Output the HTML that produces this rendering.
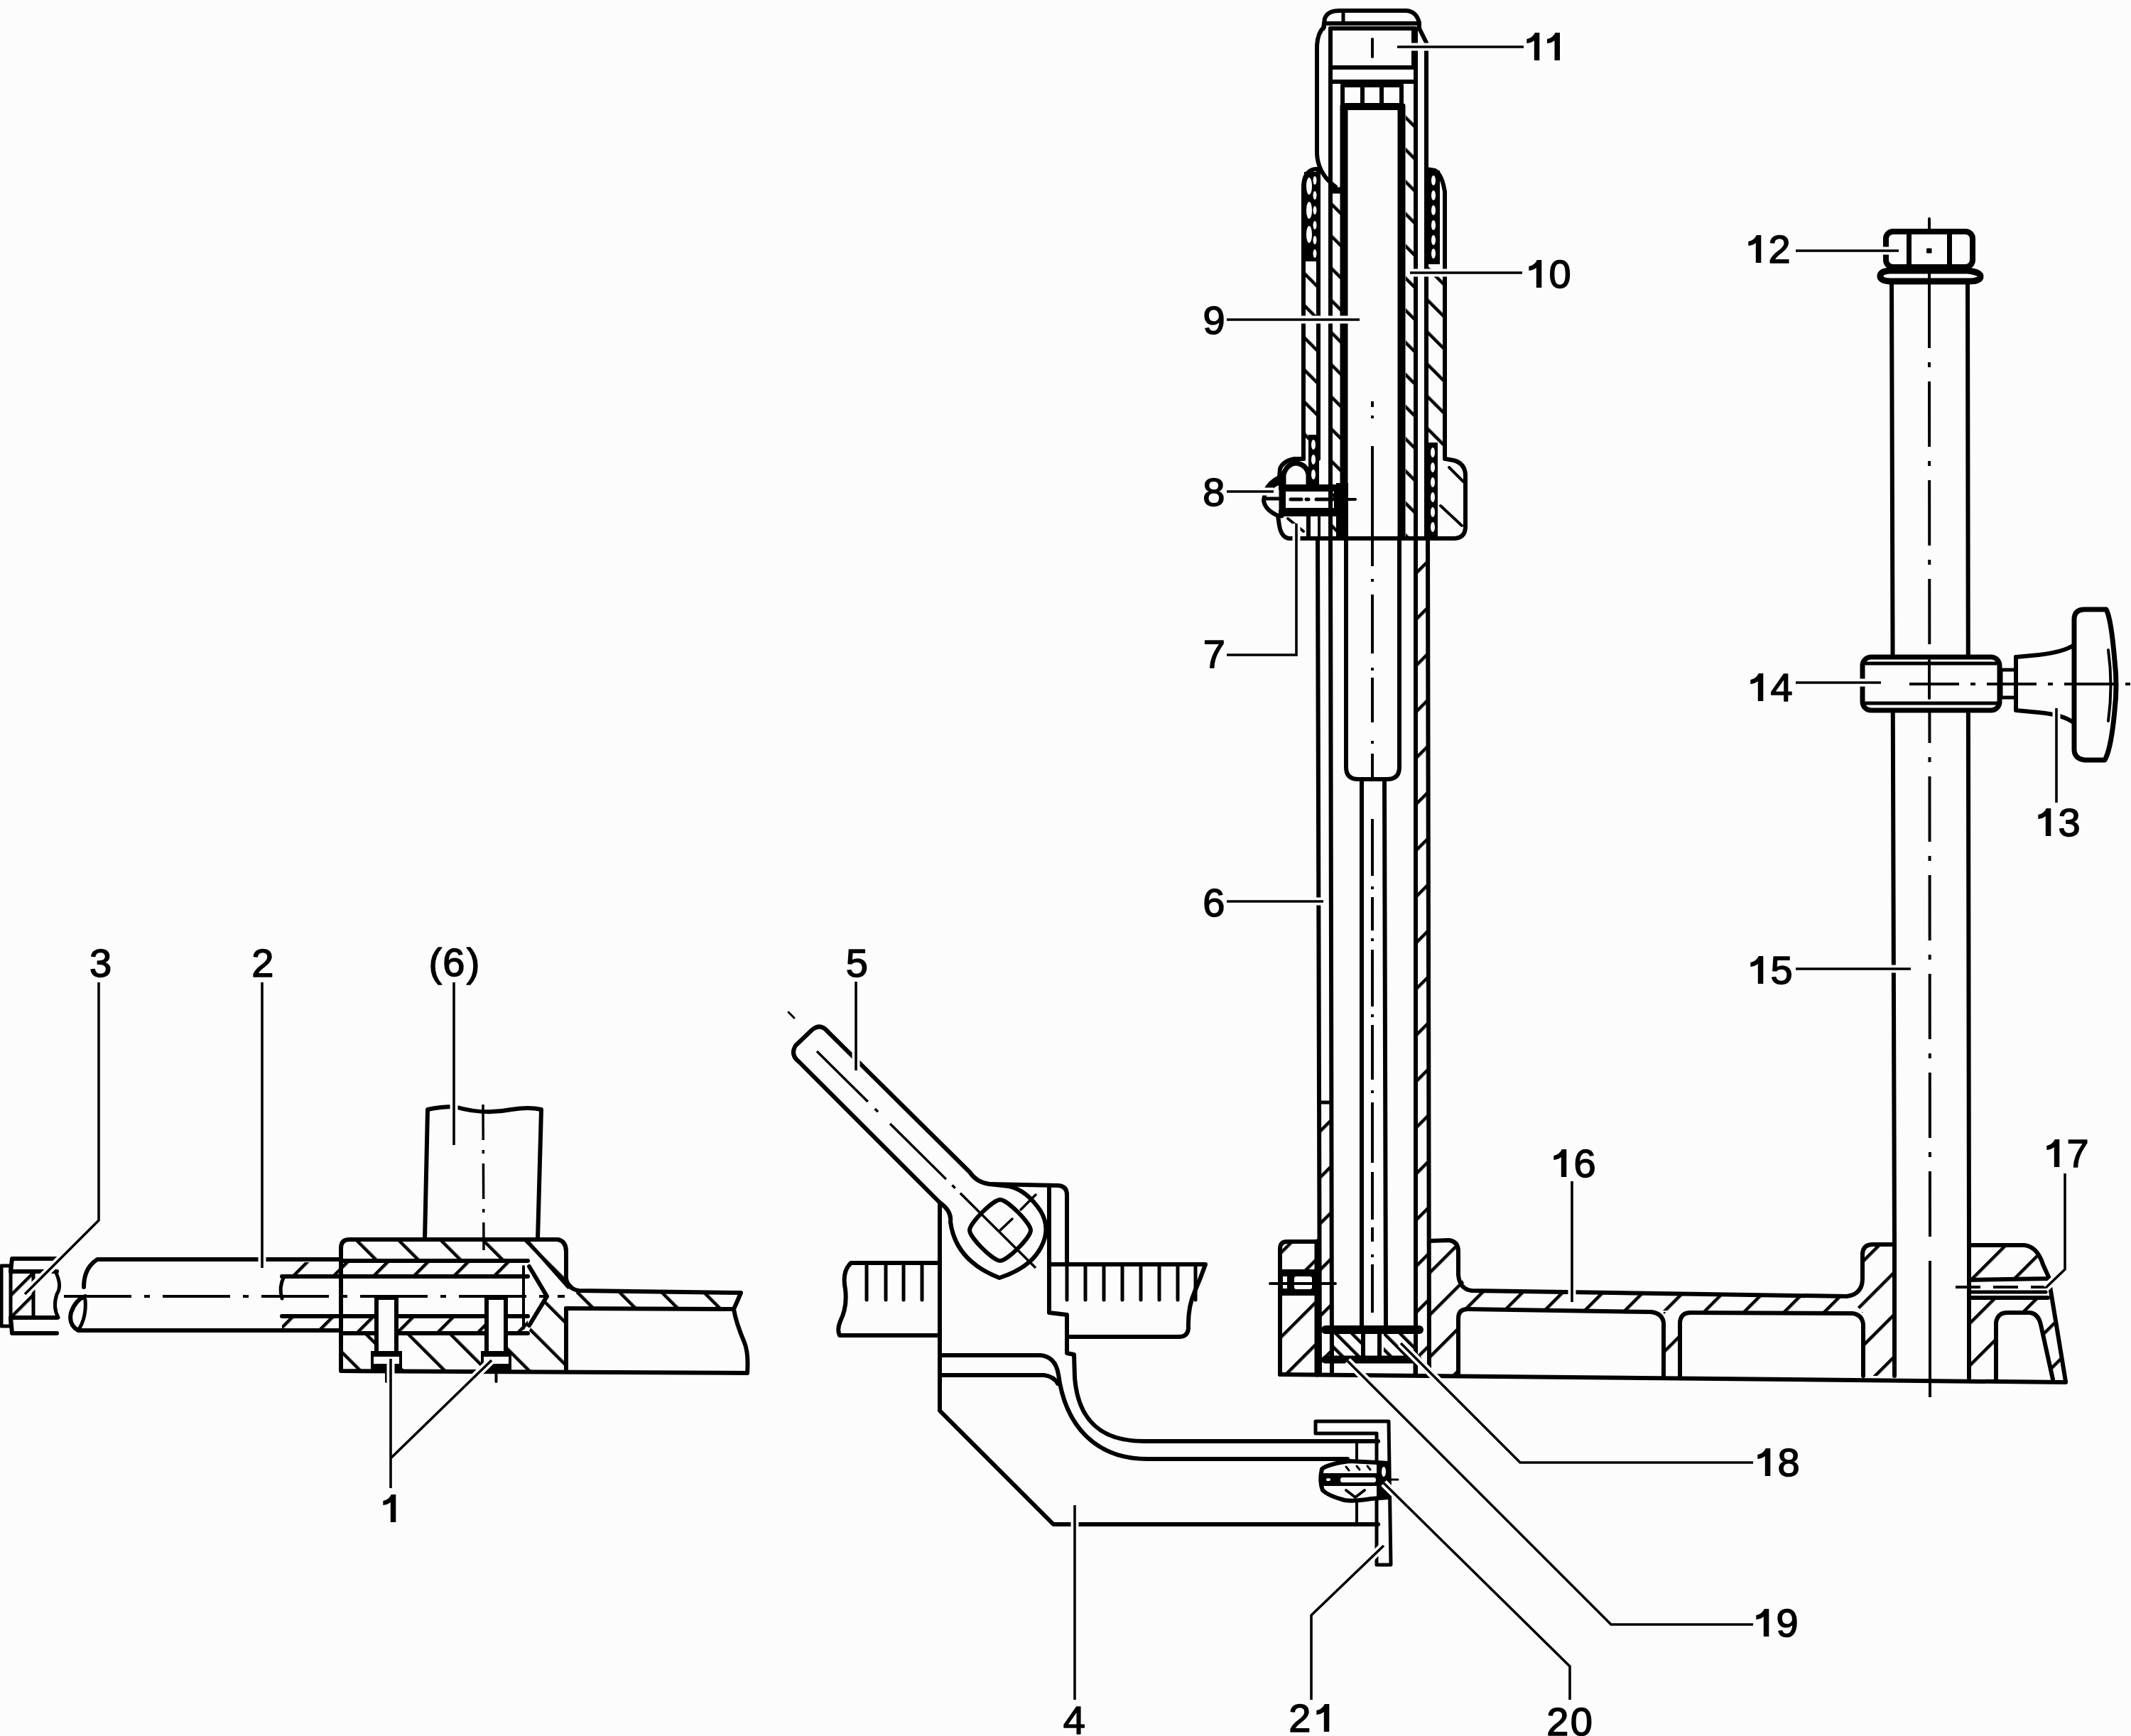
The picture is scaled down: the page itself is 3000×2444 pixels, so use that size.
<!DOCTYPE html>
<html><head><meta charset="utf-8"><style>
html,body{margin:0;padding:0;background:#fcfcfc;overflow:hidden;}
svg{display:block;}
text{font-family:"Liberation Sans",sans-serif;font-size:56px;fill:#000;stroke:#000;stroke-width:1.5px;}
</style></head><body>
<svg width="3000" height="2444" viewBox="0 0 3000 2444">
<defs>
<pattern id="pm45_32_4d5" patternUnits="userSpaceOnUse" width="32" height="32" patternTransform="rotate(-45)"><rect x="0" y="0" width="4.5" height="32" fill="#000"/></pattern>
<pattern id="p45_46_4d5" patternUnits="userSpaceOnUse" width="46" height="46" patternTransform="rotate(45)"><rect x="0" y="0" width="4.5" height="46" fill="#000"/></pattern>
<pattern id="p45_42_4d5" patternUnits="userSpaceOnUse" width="42" height="42" patternTransform="rotate(45)"><rect x="0" y="0" width="4.5" height="42" fill="#000"/></pattern>
<pattern id="pm45_16_4d5" patternUnits="userSpaceOnUse" width="16" height="16" patternTransform="rotate(-45)"><rect x="0" y="0" width="4.5" height="16" fill="#000"/></pattern>
<pattern id="p45_40_4d5" patternUnits="userSpaceOnUse" width="40" height="40" patternTransform="rotate(45)"><rect x="0" y="0" width="4.5" height="40" fill="#000"/></pattern>
<pattern id="pm45_42_4d5" patternUnits="userSpaceOnUse" width="42" height="42" patternTransform="rotate(-45)"><rect x="0" y="0" width="4.5" height="42" fill="#000"/></pattern>
<pattern id="p45_22_4d5" patternUnits="userSpaceOnUse" width="22" height="22" patternTransform="rotate(45)"><rect x="0" y="0" width="4.5" height="22" fill="#000"/></pattern>
</defs>
<g stroke="#000" stroke-linecap="round" stroke-linejoin="round" fill="none">
<rect x="1873" y="265" width="14" height="492" fill="url(#pm45_32_4d5)" stroke="none"/>
<rect x="1979" y="155" width="14" height="602" fill="url(#pm45_32_4d5)" stroke="none"/>
<rect x="1835" y="367" width="21" height="279" fill="url(#pm45_32_4d5)" stroke="none"/>
<rect x="2010" y="372" width="23" height="274" fill="url(#pm45_32_4d5)" stroke="none"/>
<rect x="1993" y="758" width="17" height="1177" fill="url(#p45_46_4d5)" stroke="none"/>
<rect x="1858" y="1552" width="14" height="383" fill="url(#p45_46_4d5)" stroke="none"/>
<path d="M1863,40 L1865,26 Q1869,15 1886,15 L1980,15 Q1994,16 1998,32 L1998,40" stroke-width="6" fill="none" />
<line x1="1866" y1="33" x2="1996" y2="33" stroke-width="6" />
<line x1="1891" y1="17" x2="1891" y2="33" stroke-width="5" />
<rect x="1873" y="40" width="117" height="55" rx="0" stroke-width="6" fill="none" />
<line x1="1873" y1="115" x2="1990" y2="115" stroke-width="6" />
<rect x="1890" y="120" width="83" height="28" rx="0" stroke-width="6" fill="none" />
<line x1="1918" y1="120" x2="1918" y2="148" stroke-width="6" />
<line x1="1945" y1="120" x2="1945" y2="148" stroke-width="6" />
<rect x="1887" y="146" width="91" height="9" fill="#000" stroke="none"/>
<line x1="1932" y1="55" x2="1932" y2="80" stroke-width="4" />
<path d="M1864,38 Q1855,46 1854,64 L1854,216 Q1855,244 1880,263" stroke-width="6" fill="none" />
<path d="M1998,40 L2008,60 L2008,758" stroke-width="6" fill="none" />
<line x1="1873" y1="40" x2="1873" y2="758" stroke-width="6" />
<line x1="1993" y1="40" x2="1993" y2="1935" stroke-width="6" />
<line x1="1875" y1="268" x2="1887" y2="268" stroke-width="9" />
<line x1="1892" y1="148" x2="1892" y2="758" stroke-width="11" stroke-linecap="butt"/>
<line x1="1973" y1="148" x2="1973" y2="758" stroke-width="11" stroke-linecap="butt"/>
<path d="M1835,646 L1835,262 Q1836,240 1852,238 L1856,238" stroke-width="6" fill="none" />
<line x1="1856" y1="238" x2="1856" y2="646" stroke-width="6" />
<path d="M2034,646 L2034,270 Q2030,245 2020,240 L2008,238" stroke-width="6" fill="none" />
<rect x="1836" y="242" width="21" height="126" fill="#000" stroke="none"/>
<rect x="2010" y="240" width="17" height="132" fill="#000" stroke="none"/>
<ellipse cx="1843" cy="262" rx="4" ry="12" fill="#fcfcfc" stroke="none"/>
<ellipse cx="1843" cy="296" rx="4" ry="12" fill="#fcfcfc" stroke="none"/>
<ellipse cx="1843" cy="330" rx="4" ry="12" fill="#fcfcfc" stroke="none"/>
<ellipse cx="1851" cy="254" rx="2.5" ry="6" fill="#fcfcfc" stroke="none"/>
<ellipse cx="2018" cy="254" rx="3" ry="7" fill="#fcfcfc" stroke="none"/>
<ellipse cx="1851" cy="275" rx="2.5" ry="6" fill="#fcfcfc" stroke="none"/>
<ellipse cx="2018" cy="275" rx="3" ry="7" fill="#fcfcfc" stroke="none"/>
<ellipse cx="1851" cy="296" rx="2.5" ry="6" fill="#fcfcfc" stroke="none"/>
<ellipse cx="2018" cy="296" rx="3" ry="7" fill="#fcfcfc" stroke="none"/>
<ellipse cx="1851" cy="317" rx="2.5" ry="6" fill="#fcfcfc" stroke="none"/>
<ellipse cx="2018" cy="317" rx="3" ry="7" fill="#fcfcfc" stroke="none"/>
<ellipse cx="1851" cy="338" rx="2.5" ry="6" fill="#fcfcfc" stroke="none"/>
<ellipse cx="2018" cy="338" rx="3" ry="7" fill="#fcfcfc" stroke="none"/>
<ellipse cx="1851" cy="357" rx="2.5" ry="6" fill="#fcfcfc" stroke="none"/>
<ellipse cx="2018" cy="357" rx="3" ry="7" fill="#fcfcfc" stroke="none"/>
<path d="M1835,646 L1822,646 Q1806,649 1802,660 L1801,672 Q1786,679 1781,692 L1779,705 Q1781,718 1799,726 L1801,740 Q1804,757 1815,758 L2048,758 Q2062,757 2063,743 L2063,668 Q2062,652 2046,648 L2035,646" stroke-width="6" fill="none" />
<path d="M1807,684 L1807,668 Q1812,652 1826,652 Q1840,655 1842,668 L1842,684" stroke-width="7" fill="none" />
<rect x="1800" y="682" width="98" height="8" fill="#000" stroke="none"/>
<rect x="1800" y="718" width="98" height="9" fill="#000" stroke="none"/>
<rect x="1807" y="689" width="74" height="29" rx="0" stroke-width="6" fill="none" />
<rect x="1881" y="680" width="17" height="78" fill="#000" stroke="none"/>
<path d="M1803,679 Q1790,681 1785,693" stroke-width="7" fill="none" />
<line x1="1804" y1="676" x2="1804" y2="726" stroke-width="7" />
<line x1="1781" y1="702" x2="1804" y2="702" stroke-width="5" />
<line x1="1817" y1="703" x2="1832" y2="703" stroke-width="5" />
<line x1="1839" y1="703" x2="1842" y2="703" stroke-width="5" />
<line x1="1853" y1="703" x2="1880" y2="703" stroke-width="5" />
<line x1="1898" y1="703" x2="1908" y2="703" stroke-width="4" />
<line x1="1842" y1="727" x2="1842" y2="758" stroke-width="6" />
<line x1="1813" y1="730" x2="1835" y2="748" stroke-width="4" />
<line x1="1857" y1="727" x2="1857" y2="758" stroke-width="4" />
<line x1="2040" y1="658" x2="2060" y2="678" stroke-width="4" />
<line x1="2028" y1="712" x2="2058" y2="740" stroke-width="4" />
<rect x="2010" y="623" width="14" height="134" fill="#000" stroke="none"/>
<ellipse cx="2017" cy="637" rx="3" ry="7" fill="#fcfcfc" stroke="none"/>
<ellipse cx="2017" cy="658" rx="3" ry="7" fill="#fcfcfc" stroke="none"/>
<ellipse cx="2017" cy="679" rx="3" ry="7" fill="#fcfcfc" stroke="none"/>
<ellipse cx="2017" cy="700" rx="3" ry="7" fill="#fcfcfc" stroke="none"/>
<ellipse cx="2017" cy="721" rx="3" ry="7" fill="#fcfcfc" stroke="none"/>
<ellipse cx="2017" cy="742" rx="3" ry="7" fill="#fcfcfc" stroke="none"/>
<rect x="1842" y="612" width="15" height="70" fill="#000" stroke="none"/>
<ellipse cx="1849" cy="626" rx="3" ry="7" fill="#fcfcfc" stroke="none"/>
<ellipse cx="1849" cy="647" rx="3" ry="7" fill="#fcfcfc" stroke="none"/>
<ellipse cx="1849" cy="668" rx="3" ry="7" fill="#fcfcfc" stroke="none"/>
<line x1="1855" y1="758" x2="1858" y2="1935" stroke-width="6" />
<line x1="1873" y1="758" x2="1875" y2="1935" stroke-width="6" />
<line x1="1895" y1="758" x2="1895" y2="1080" stroke-width="6" />
<line x1="1970" y1="758" x2="1970" y2="1080" stroke-width="6" />
<line x1="2010" y1="758" x2="2012" y2="1935" stroke-width="6" />
<path d="M1895,1080 Q1895,1097 1912,1097 L1953,1097 Q1970,1097 1970,1080" stroke-width="6" fill="none" />
<line x1="1917" y1="1097" x2="1917" y2="1870" stroke-width="6" />
<line x1="1949" y1="1097" x2="1951" y2="1870" stroke-width="6" />
<line x1="1858" y1="1552" x2="1872" y2="1552" stroke-width="5" />
<line x1="1932" y1="565" x2="1932" y2="573" stroke-width="4" stroke-linecap="butt"/>
<line x1="1932" y1="585" x2="1932" y2="589" stroke-width="4" stroke-linecap="butt"/>
<line x1="1932" y1="628" x2="1932" y2="797" stroke-width="4" stroke-linecap="butt"/>
<line x1="1932" y1="815" x2="1932" y2="819" stroke-width="4" stroke-linecap="butt"/>
<line x1="1932" y1="837" x2="1932" y2="920" stroke-width="4" stroke-linecap="butt"/>
<line x1="1932" y1="940" x2="1932" y2="944" stroke-width="4" stroke-linecap="butt"/>
<line x1="1932" y1="954" x2="1932" y2="1017" stroke-width="4" stroke-linecap="butt"/>
<line x1="1932" y1="1043" x2="1932" y2="1047" stroke-width="4" stroke-linecap="butt"/>
<line x1="1932" y1="1061" x2="1932" y2="1095" stroke-width="4" stroke-linecap="butt"/>
<line x1="1932" y1="1153" x2="1932" y2="1233" stroke-width="4" stroke-linecap="butt"/>
<line x1="1932" y1="1248" x2="1932" y2="1252" stroke-width="4" stroke-linecap="butt"/>
<line x1="1932" y1="1263" x2="1932" y2="1310" stroke-width="4" stroke-linecap="butt"/>
<line x1="1932" y1="1321" x2="1932" y2="1325" stroke-width="4" stroke-linecap="butt"/>
<line x1="1932" y1="1337" x2="1932" y2="1417" stroke-width="4" stroke-linecap="butt"/>
<line x1="1932" y1="1428" x2="1932" y2="1432" stroke-width="4" stroke-linecap="butt"/>
<line x1="1932" y1="1443" x2="1932" y2="1520" stroke-width="4" stroke-linecap="butt"/>
<line x1="1932" y1="1535" x2="1932" y2="1539" stroke-width="4" stroke-linecap="butt"/>
<line x1="1932" y1="1552" x2="1932" y2="1637" stroke-width="4" stroke-linecap="butt"/>
<line x1="1932" y1="1650" x2="1932" y2="1717" stroke-width="4" stroke-linecap="butt"/>
<line x1="1932" y1="1728" x2="1932" y2="1748" stroke-width="4" stroke-linecap="butt"/>
<line x1="1932" y1="1766" x2="1932" y2="1770" stroke-width="4" stroke-linecap="butt"/>
<line x1="1932" y1="1780" x2="1932" y2="1848" stroke-width="4" stroke-linecap="butt"/>
<path d="M1802,1748 L1853,1748 L1853,1935 L1802,1935 Z" fill="url(#p45_42_4d5)" stroke="none"/>
<path d="M1802,1935 L1802,1758 Q1802,1748 1812,1748 L1853,1748" stroke-width="6" fill="none" />
<line x1="1854" y1="1748" x2="1854" y2="1935" stroke-width="7" />
<rect x="1802" y="1787" width="52" height="37" fill="#000" stroke="none"/>
<rect x="1806" y="1797" width="6" height="17" rx="0" fill="#fcfcfc" stroke="none"/>
<rect x="1822" y="1797" width="25" height="18" rx="3" fill="#fcfcfc" stroke="none"/>
<line x1="1788" y1="1807" x2="1880" y2="1807" stroke-width="4" />
<rect x="1876" y="1878" width="40" height="31" fill="url(#pm45_16_4d5)" stroke="none"/>
<rect x="1948" y="1878" width="42" height="31" fill="url(#pm45_16_4d5)" stroke="none"/>
<line x1="1866" y1="1872" x2="1998" y2="1872" stroke-width="12" />
<line x1="1866" y1="1914" x2="1996" y2="1914" stroke-width="11" />
<line x1="1919" y1="1878" x2="1919" y2="1909" stroke-width="6" />
<line x1="1942" y1="1878" x2="1942" y2="1909" stroke-width="6" />
<line x1="1875" y1="1920" x2="1875" y2="1935" stroke-width="5" />
<line x1="1992" y1="1920" x2="1992" y2="1935" stroke-width="5" />
<path d="M2012,1747 L2053,1747 L2053,1795 L2070,1818 L2053,1842 L2053,1935 L2012,1935 Z" fill="url(#p45_42_4d5)" stroke="none"/>
<path d="M2053,1818 L2600,1825 L2623,1848 L2053,1842 Z" fill="url(#p45_40_4d5)" stroke="none"/>
<path d="M2342,1847 L2365,1847 L2365,1937 L2342,1937 Z" fill="url(#p45_40_4d5)" stroke="none"/>
<path d="M2012,1747 L2040,1746 Q2053,1748 2053,1762 L2053,1795 Q2055,1815 2072,1817 C2200,1818 2300,1821 2400,1822 C2500,1824 2560,1825 2600,1825" stroke-width="6" fill="none" />
<path d="M2053,1935 L2053,1856 Q2053,1843 2066,1843 L2325,1847 Q2340,1849 2342,1862 L2342,1937" stroke-width="6" fill="none" />
<path d="M2365,1937 L2365,1862 Q2366,1848 2380,1848 L2608,1849 Q2622,1851 2623,1865 L2623,1937" stroke-width="6" fill="none" />
<path d="M2622,1752 L2667,1752 L2667,1937 L2623,1937 L2623,1848 L2600,1825 L2622,1800 Z" fill="url(#p45_42_4d5)" stroke="none"/>
<path d="M2600,1825 Q2622,1822 2622,1800 L2622,1765 Q2623,1752 2636,1752 L2667,1752" stroke-width="6" fill="none" />
<line x1="2667" y1="1752" x2="2667" y2="1937" stroke-width="6" />
<line x1="2772" y1="1752" x2="2772" y2="1940" stroke-width="6" />
<path d="M2772,1753 L2860,1753 L2885,1800 L2772,1800 Z" fill="url(#p45_42_4d5)" stroke="none"/>
<path d="M2772,1753 L2850,1753 Q2868,1755 2876,1780 L2885,1800 L2772,1802" stroke-width="6" fill="none" />
<line x1="2753" y1="1812" x2="2880" y2="1812" stroke-width="4" stroke-dasharray="35 18" stroke-linecap="butt"/>
<line x1="2772" y1="1819" x2="2880" y2="1819" stroke-width="5" />
<line x1="2772" y1="1827" x2="2883" y2="1827" stroke-width="6" />
<path d="M2772,1828 L2885,1828 L2908,1945 L2888,1942 L2872,1850 L2810,1850 L2810,1942 L2772,1942 Z" fill="url(#p45_42_4d5)" stroke="none"/>
<path d="M2885,1805 L2908,1945" stroke-width="6" fill="none" />
<path d="M2810,1942 L2810,1862 Q2812,1848 2826,1848 L2858,1848 Q2870,1850 2873,1865 L2890,1942" stroke-width="6" fill="none" />
<path d="M1802,1935 L2908,1946" stroke-width="6" fill="none" />
<line x1="2716" y1="313" x2="2716" y2="490" stroke-width="4" stroke-linecap="butt"/>
<line x1="2716" y1="490" x2="2717" y2="1760" stroke-width="4" stroke-dasharray="92 20 7 20" stroke-linecap="butt" stroke-dashoffset="92"/>
<line x1="2717" y1="1775" x2="2717" y2="1967" stroke-width="4" stroke-linecap="butt"/>
<line x1="2663" y1="397" x2="2667" y2="1752" stroke-width="6" />
<line x1="2770" y1="397" x2="2772" y2="1752" stroke-width="6" />
<rect x="2655" y="326" width="122" height="50" rx="10" stroke-width="8" fill="#fcfcfc" />
<rect x="2684" y="328" width="7" height="46" fill="#000" stroke="none"/>
<rect x="2741" y="328" width="7" height="46" fill="#000" stroke="none"/>
<line x1="2716" y1="308" x2="2716" y2="326" stroke-width="4" />
<rect x="2713" y="350" width="6" height="6" fill="#000"/>
<path d="M2660,381 L2770,381 Q2789,383 2788,390 Q2787,396 2772,396 L2660,396 Q2646,395 2647,388 Q2648,382 2660,381 Z" stroke-width="9" fill="#fcfcfc" />
<line x1="2716" y1="379" x2="2716" y2="397" stroke-width="4" />
<rect x="2622" y="925" width="193" height="75" rx="12" stroke-width="7" fill="#fcfcfc" />
<line x1="2626" y1="934" x2="2811" y2="934" stroke-width="5" />
<line x1="2626" y1="990" x2="2811" y2="990" stroke-width="5" />
<line x1="2716" y1="930" x2="2716" y2="983" stroke-width="4" />
<rect x="2817" y="943" width="21" height="39" rx="0" stroke-width="5" fill="none" />
<line x1="2817" y1="963" x2="2838" y2="963" stroke-width="4" />
<path d="M2838,925 L2838,1000 L2870,1003 Q2905,1006 2920,1018" stroke-width="6" fill="none" />
<path d="M2838,925 L2870,922 Q2905,918 2920,908" stroke-width="6" fill="none" />
<path d="M2920,872 Q2920,858 2935,858 L2965,858 Q2972,870 2977,930 Q2981,965 2977,1000 Q2972,1055 2963,1070 L2935,1070 Q2920,1068 2920,1055 Z" stroke-width="7" fill="#fcfcfc" />
<path d="M2968,915 Q2975,965 2968,1015" stroke-width="4" fill="none" />
<line x1="2688" y1="963" x2="3000" y2="963" stroke-width="4" stroke-dasharray="70 16 7 16" stroke-linecap="butt"/>
<path d="M1322,1778 L1198,1778 Q1185,1790 1190,1815 Q1193,1840 1183,1860 Q1178,1872 1182,1880 L1322,1880" stroke-width="6" fill="none" />
<line x1="1220" y1="1782" x2="1220" y2="1830" stroke-width="5" />
<line x1="1247" y1="1782" x2="1247" y2="1830" stroke-width="5" />
<line x1="1272" y1="1782" x2="1272" y2="1830" stroke-width="5" />
<line x1="1298" y1="1782" x2="1298" y2="1830" stroke-width="5" />
<path d="M1477,1780 L1697,1780 Q1690,1800 1682,1818 Q1672,1840 1673,1870 Q1672,1882 1660,1882 L1503,1882" stroke-width="6" fill="none" />
<line x1="1502" y1="1783" x2="1502" y2="1830" stroke-width="5" />
<line x1="1528" y1="1783" x2="1528" y2="1830" stroke-width="5" />
<line x1="1554" y1="1783" x2="1554" y2="1830" stroke-width="5" />
<line x1="1580" y1="1783" x2="1580" y2="1830" stroke-width="5" />
<line x1="1606" y1="1783" x2="1606" y2="1830" stroke-width="5" />
<line x1="1632" y1="1783" x2="1632" y2="1830" stroke-width="5" />
<line x1="1658" y1="1783" x2="1658" y2="1830" stroke-width="5" />
<line x1="1683" y1="1783" x2="1683" y2="1830" stroke-width="5" />
<path d="M1323,1693 L1323,1986 L1483,2146 L1940,2146" stroke-width="6" fill="none" />
<path d="M1393,1667 L1490,1669 Q1502,1670 1502,1682 L1502,1778" stroke-width="6" fill="none" />
<path d="M1477,1671 L1477,1848 L1502,1851 L1502,1905 L1512,1907 L1513,1940 C1518,2000 1550,2029 1610,2029 L1940,2029" stroke-width="6" fill="none" />
<path d="M1323,1908 L1465,1908 Q1486,1910 1490,1935 C1500,2010 1545,2054 1615,2054 L1897,2054" stroke-width="6" fill="none" />
<path d="M1323,1936 L1470,1936 Q1484,1938 1489,1948" stroke-width="6" fill="none" />
<line x1="1910" y1="2029" x2="1910" y2="2054" stroke-width="4" />
<line x1="1910" y1="2113" x2="1910" y2="2146" stroke-width="4" />
<path d="M1393,1667 Q1375,1665 1365,1650 L1165,1452 Q1155,1440 1143,1450 L1120,1472 Q1112,1485 1125,1495 L1323,1693 Q1340,1705 1338,1720 Q1345,1775 1407,1799 Q1450,1785 1465,1757 Q1480,1730 1465,1705 Q1445,1675 1420,1670 Z" stroke-width="6" fill="none" />
<path d="M1408,1689 C1418,1689 1451,1722 1451,1732 C1451,1742 1418,1775 1408,1775 C1398,1775 1365,1742 1365,1732 C1365,1722 1398,1689 1408,1689 Z" stroke-width="6" fill="none" />
<line x1="1150" y1="1480" x2="1458" y2="1785" stroke-width="3.5" stroke-dasharray="101 14 6 24 111 12 6 10 150" stroke-linecap="butt"/>
<line x1="1408" y1="1732" x2="1425" y2="1716" stroke-width="3.5" />
<line x1="1437" y1="1703" x2="1458" y2="1682" stroke-width="3.5" />
<line x1="1110" y1="1425" x2="1118" y2="1433" stroke-width="3" />
<path d="M1938,2203 L1938,2018 L1852,2018 L1852,2001 L1955,2001 L1958,2203 Z" stroke-width="5" fill="none" />
<path d="M1900,2057 L1939,2059 L1955,2060 L1955,2108 L1930,2110 Q1905,2114 1893,2112 Q1870,2106 1862,2098 Q1857,2085 1861,2068 Q1870,2061 1900,2057 Z" stroke-width="6" fill="#fcfcfc" />
<rect x="1862" y="2074" width="78" height="18" fill="#000" stroke="none"/>
<rect x="1887" y="2080" width="50" height="7" rx="3" fill="#fcfcfc" stroke="none"/>
<ellipse cx="1870" cy="2083" rx="3" ry="2" fill="#fcfcfc" stroke="none"/>
<rect x="1938" y="2058" width="17" height="52" fill="#000" stroke="none"/>
<ellipse cx="1948" cy="2072" rx="3" ry="7" fill="#fcfcfc" stroke="none"/>
<ellipse cx="1934" cy="2099" rx="4" ry="4" fill="#fcfcfc" stroke="none"/>
<path d="M1895,2098 L1908,2108 L1921,2098" stroke-width="4" fill="none" />
<line x1="1895" y1="2065" x2="1899" y2="2070" stroke-width="3" />
<line x1="1910" y1="2064" x2="1914" y2="2069" stroke-width="3" />
<line x1="1925" y1="2064" x2="1929" y2="2069" stroke-width="3" />
<line x1="1951" y1="2083" x2="1968" y2="2083" stroke-width="3" />
<path d="M482,1743 L790,1743 L797,1800 L813,1817 L743,1775 L482,1775 Z" fill="url(#pm45_42_4d5)" stroke="none"/>
<path d="M482,1877 L743,1877 L797,1930 L482,1930 Z" fill="url(#pm45_42_4d5)" stroke="none"/>
<rect x="397" y="1777" width="346" height="20" fill="url(#p45_40_4d5)" stroke="none"/>
<rect x="397" y="1853" width="346" height="22" fill="url(#p45_40_4d5)" stroke="none"/>
<path d="M813,1817 L1043,1820 L1033,1842 L797,1842 Z" fill="url(#pm45_42_4d5)" stroke="none"/>
<path d="M743,1748 L800,1812 L797,1930 L743,1877 L770,1825 Z" fill="url(#pm45_42_4d5)" stroke="none"/>
<path d="M480,1930 L480,1757 Q480,1745 492,1745 L785,1745 Q797,1747 797,1762 L797,1800 Q800,1815 815,1817 L1043,1820 Q1038,1832 1033,1843 Q1036,1862 1048,1890 Q1054,1905 1052,1933 L482,1930" stroke-width="6" fill="none" />
<line x1="797" y1="1842" x2="1033" y2="1843" stroke-width="6" />
<line x1="482" y1="1775" x2="743" y2="1775" stroke-width="6" />
<line x1="482" y1="1877" x2="743" y2="1877" stroke-width="6" />
<path d="M598,1745 L602,1562 Q620,1558 640,1558 Q680,1570 720,1562 Q745,1558 762,1562 L757,1745" stroke-width="6" fill="none" />
<line x1="680" y1="1555" x2="681" y2="1760" stroke-width="3.5" stroke-dasharray="50 14 5 14" stroke-linecap="butt"/>
<path d="M480,1773 L137,1773 Q118,1785 118,1812" stroke-width="6" fill="none" />
<path d="M480,1873 L110,1873 Q96,1865 100,1848 Q106,1830 120,1825" stroke-width="6" fill="none" />
<path d="M120,1830 Q122,1855 110,1873" stroke-width="5" fill="none" />
<line x1="397" y1="1797" x2="743" y2="1797" stroke-width="6" />
<line x1="397" y1="1853" x2="743" y2="1853" stroke-width="6" />
<path d="M400,1797 Q392,1812 397,1828" stroke-width="5" fill="none" />
<path d="M745,1783 L770,1825 L745,1866" stroke-width="6" fill="none" />
<line x1="737" y1="1783" x2="737" y2="1870" stroke-width="4" />
<line x1="743" y1="1748" x2="800" y2="1812" stroke-width="5" />
<line x1="797" y1="1842" x2="797" y2="1930" stroke-width="6" />
<rect x="522" y="1902" width="44" height="28" fill="#000" stroke="none"/>
<rect x="530" y="1827" width="28" height="78" rx="0" stroke-width="6" fill="#fcfcfc" />
<rect x="524" y="1908" width="40" height="14" rx="0" stroke-width="4" fill="#fcfcfc" />
<line x1="544.0" y1="1930" x2="544.0" y2="1945" stroke-width="4" />
<rect x="677" y="1902" width="43" height="28" fill="#000" stroke="none"/>
<rect x="685" y="1827" width="27" height="78" rx="0" stroke-width="6" fill="#fcfcfc" />
<rect x="679" y="1908" width="39" height="14" rx="0" stroke-width="4" fill="#fcfcfc" />
<line x1="698.5" y1="1930" x2="698.5" y2="1945" stroke-width="4" />
<path d="M15,1790 L47,1790 L47,1855 L15,1855 Z" fill="url(#p45_22_4d5)" stroke="none"/>
<rect x="2" y="1782" width="13" height="85" rx="0" stroke-width="5" fill="none" />
<path d="M80,1772 L17,1772 L15,1790 L80,1790" stroke-width="6" fill="none" />
<path d="M80,1877 L17,1877 L15,1855 L80,1855" stroke-width="6" fill="none" />
<line x1="47" y1="1790" x2="47" y2="1855" stroke-width="5" />
<path d="M78,1790 Q88,1810 80,1822 Q74,1840 82,1855" stroke-width="5" fill="none" />
<line x1="90" y1="1825" x2="795" y2="1825" stroke-width="4" stroke-dasharray="95 18 8 18" stroke-linecap="butt"/>
<path d="M550,2053 L692,1915" stroke="#fcfcfc" stroke-width="11" fill="none" stroke-linecap="butt" stroke-linejoin="miter"/>
<path d="M550,1913 L550,2095" stroke="#fcfcfc" stroke-width="11" fill="none" stroke-linecap="butt" stroke-linejoin="miter"/>
<path d="M639,1383 L639,1612" stroke="#fcfcfc" stroke-width="11" fill="none" stroke-linecap="butt" stroke-linejoin="miter"/>
<path d="M369,1383 L369,1785" stroke="#fcfcfc" stroke-width="11" fill="none" stroke-linecap="butt" stroke-linejoin="miter"/>
<path d="M139,1383 L139,1718 L35,1822" stroke="#fcfcfc" stroke-width="11" fill="none" stroke-linecap="butt" stroke-linejoin="miter"/>
<path d="M1205,1382 L1205,1507" stroke="#fcfcfc" stroke-width="11" fill="none" stroke-linecap="butt" stroke-linejoin="miter"/>
<path d="M1513,2119 L1513,2393" stroke="#fcfcfc" stroke-width="11" fill="none" stroke-linecap="butt" stroke-linejoin="miter"/>
<path d="M1948,2176 L1846,2274 L1846,2393" stroke="#fcfcfc" stroke-width="11" fill="none" stroke-linecap="butt" stroke-linejoin="miter"/>
<path d="M1948,2088 L2210,2346 L2210,2393" stroke="#fcfcfc" stroke-width="11" fill="none" stroke-linecap="butt" stroke-linejoin="miter"/>
<path d="M1897,1916 L2268,2287 L2468,2287" stroke="#fcfcfc" stroke-width="11" fill="none" stroke-linecap="butt" stroke-linejoin="miter"/>
<path d="M1972,1891 L2140,2059 L2468,2059" stroke="#fcfcfc" stroke-width="11" fill="none" stroke-linecap="butt" stroke-linejoin="miter"/>
<path d="M2907,1652 L2907,1787 L2880,1813" stroke="#fcfcfc" stroke-width="11" fill="none" stroke-linecap="butt" stroke-linejoin="miter"/>
<path d="M2213,1663 L2213,1833" stroke="#fcfcfc" stroke-width="11" fill="none" stroke-linecap="butt" stroke-linejoin="miter"/>
<path d="M2528,1364 L2690,1364" stroke="#fcfcfc" stroke-width="11" fill="none" stroke-linecap="butt" stroke-linejoin="miter"/>
<path d="M2895,997 L2895,1130" stroke="#fcfcfc" stroke-width="11" fill="none" stroke-linecap="butt" stroke-linejoin="miter"/>
<path d="M2528,961 L2648,961" stroke="#fcfcfc" stroke-width="11" fill="none" stroke-linecap="butt" stroke-linejoin="miter"/>
<path d="M2528,353 L2673,353" stroke="#fcfcfc" stroke-width="11" fill="none" stroke-linecap="butt" stroke-linejoin="miter"/>
<path d="M1727,1269 L1863,1269" stroke="#fcfcfc" stroke-width="11" fill="none" stroke-linecap="butt" stroke-linejoin="miter"/>
<path d="M1727,922 L1825,922 L1825,737" stroke="#fcfcfc" stroke-width="11" fill="none" stroke-linecap="butt" stroke-linejoin="miter"/>
<path d="M1727,692 L1793,692" stroke="#fcfcfc" stroke-width="11" fill="none" stroke-linecap="butt" stroke-linejoin="miter"/>
<path d="M1727,450 L1914,450" stroke="#fcfcfc" stroke-width="11" fill="none" stroke-linecap="butt" stroke-linejoin="miter"/>
<path d="M1985,384 L2143,384" stroke="#fcfcfc" stroke-width="11" fill="none" stroke-linecap="butt" stroke-linejoin="miter"/>
<path d="M1967,66 L2145,66" stroke="#fcfcfc" stroke-width="11" fill="none" stroke-linecap="butt" stroke-linejoin="miter"/>
<path d="M2159.8,85 L2167.3,85 L2167.3,46 L2160.8,46 Q2157.8,53 2149.3,55 L2149.3,61 Q2155.8,60.5 2159.8,57 Z" fill="#000" stroke="none"/>
<path d="M2188.5,85 L2196.0,85 L2196.0,46 L2189.5,46 Q2186.5,53 2178.0,55 L2178.0,61 Q2184.5,60.5 2188.5,57 Z" fill="#000" stroke="none"/>
<path d="M2162.8,405 L2170.3,405 L2170.3,366 L2163.8,366 Q2160.8,373 2152.3,375 L2152.3,381 Q2158.8,380.5 2162.8,377 Z" fill="#000" stroke="none"/>
<text x="2180.5" y="405">0</text>
<text x="1693.5" y="470">9</text>
<text x="1693.3" y="712">8</text>
<text x="1693.7" y="940">7</text>
<text x="1693.3" y="1290">6</text>
<path d="M2471.8,370 L2479.3,370 L2479.3,331 L2472.8,331 Q2469.8,338 2461.3,340 L2461.3,346 Q2467.8,345.5 2471.8,342 Z" fill="#000" stroke="none"/>
<text x="2489.5" y="370">2</text>
<path d="M2474.8,987 L2482.3,987 L2482.3,948 L2475.8,948 Q2472.8,955 2464.3,957 L2464.3,963 Q2470.8,962.5 2474.8,959 Z" fill="#000" stroke="none"/>
<text x="2492.5" y="987">4</text>
<path d="M2879.8,1177 L2887.3,1177 L2887.3,1138 L2880.8,1138 Q2877.8,1145 2869.3,1147 L2869.3,1153 Q2875.8,1152.5 2879.8,1149 Z" fill="#000" stroke="none"/>
<text x="2897.5" y="1177">3</text>
<path d="M2474.8,1385 L2482.3,1385 L2482.3,1346 L2475.8,1346 Q2472.8,1353 2464.3,1355 L2464.3,1361 Q2470.8,1360.5 2474.8,1357 Z" fill="#000" stroke="none"/>
<text x="2492.5" y="1385">5</text>
<path d="M2197.8,1657 L2205.3,1657 L2205.3,1618 L2198.8,1618 Q2195.8,1625 2187.3,1627 L2187.3,1633 Q2193.8,1632.5 2197.8,1629 Z" fill="#000" stroke="none"/>
<text x="2215.5" y="1657">6</text>
<path d="M2891.8,1643 L2899.3,1643 L2899.3,1604 L2892.8,1604 Q2889.8,1611 2881.3,1613 L2881.3,1619 Q2887.8,1618.5 2891.8,1615 Z" fill="#000" stroke="none"/>
<text x="2909.5" y="1643">7</text>
<path d="M2484.8,2078 L2492.3,2078 L2492.3,2039 L2485.8,2039 Q2482.8,2046 2474.3,2048 L2474.3,2054 Q2480.8,2053.5 2484.8,2050 Z" fill="#000" stroke="none"/>
<text x="2502.5" y="2078">8</text>
<path d="M2482.8,2304 L2490.3,2304 L2490.3,2265 L2483.8,2265 Q2480.8,2272 2472.3,2274 L2472.3,2280 Q2478.8,2279.5 2482.8,2276 Z" fill="#000" stroke="none"/>
<text x="2500.5" y="2304">9</text>
<text x="2177.2" y="2443">2</text>
<text x="2210.8" y="2443">0</text>
<text x="1814.2" y="2438">2</text>
<path d="M1863.8,2438 L1871.3,2438 L1871.3,2399 L1864.8,2399 Q1861.8,2406 1853.3,2408 L1853.3,2414 Q1859.8,2413.5 1863.8,2410 Z" fill="#000" stroke="none"/>
<text x="1496.7" y="2441">4</text>
<text x="1190.8" y="1375">5</text>
<text x="125.9" y="1375">3</text>
<text x="354.2" y="1375">2</text>
<text x="603.5" y="1374">(</text>
<text x="623.2" y="1374">6</text>
<text x="656.8" y="1374">)</text>
<path d="M549.8,2143 L557.3,2143 L557.3,2104 L550.8,2104 Q547.8,2111 539.3,2113 L539.3,2119 Q545.8,2118.5 549.8,2115 Z" fill="#000" stroke="none"/>
<path d="M1967,66 L2145,66" stroke-width="3.6" fill="none" stroke-linecap="butt" stroke-linejoin="miter"/>
<path d="M1985,384 L2143,384" stroke-width="3.6" fill="none" stroke-linecap="butt" stroke-linejoin="miter"/>
<path d="M1727,450 L1914,450" stroke-width="3.6" fill="none" stroke-linecap="butt" stroke-linejoin="miter"/>
<path d="M1727,692 L1793,692" stroke-width="3.6" fill="none" stroke-linecap="butt" stroke-linejoin="miter"/>
<path d="M1727,922 L1825,922 L1825,737" stroke-width="3.6" fill="none" stroke-linecap="butt" stroke-linejoin="miter"/>
<path d="M1727,1269 L1863,1269" stroke-width="3.6" fill="none" stroke-linecap="butt" stroke-linejoin="miter"/>
<path d="M2528,353 L2673,353" stroke-width="3.6" fill="none" stroke-linecap="butt" stroke-linejoin="miter"/>
<path d="M2528,961 L2648,961" stroke-width="3.6" fill="none" stroke-linecap="butt" stroke-linejoin="miter"/>
<path d="M2895,997 L2895,1130" stroke-width="3.6" fill="none" stroke-linecap="butt" stroke-linejoin="miter"/>
<path d="M2528,1364 L2690,1364" stroke-width="3.6" fill="none" stroke-linecap="butt" stroke-linejoin="miter"/>
<path d="M2213,1663 L2213,1833" stroke-width="3.6" fill="none" stroke-linecap="butt" stroke-linejoin="miter"/>
<path d="M2907,1652 L2907,1787 L2880,1813" stroke-width="3.6" fill="none" stroke-linecap="butt" stroke-linejoin="miter"/>
<path d="M1972,1891 L2140,2059 L2468,2059" stroke-width="3.6" fill="none" stroke-linecap="butt" stroke-linejoin="miter"/>
<path d="M1897,1916 L2268,2287 L2468,2287" stroke-width="3.6" fill="none" stroke-linecap="butt" stroke-linejoin="miter"/>
<path d="M1948,2088 L2210,2346 L2210,2393" stroke-width="3.6" fill="none" stroke-linecap="butt" stroke-linejoin="miter"/>
<path d="M1948,2176 L1846,2274 L1846,2393" stroke-width="3.6" fill="none" stroke-linecap="butt" stroke-linejoin="miter"/>
<path d="M1513,2119 L1513,2393" stroke-width="3.6" fill="none" stroke-linecap="butt" stroke-linejoin="miter"/>
<path d="M1205,1382 L1205,1507" stroke-width="3.6" fill="none" stroke-linecap="butt" stroke-linejoin="miter"/>
<path d="M139,1383 L139,1718 L35,1822" stroke-width="3.6" fill="none" stroke-linecap="butt" stroke-linejoin="miter"/>
<path d="M369,1383 L369,1785" stroke-width="3.6" fill="none" stroke-linecap="butt" stroke-linejoin="miter"/>
<path d="M639,1383 L639,1612" stroke-width="3.6" fill="none" stroke-linecap="butt" stroke-linejoin="miter"/>
<path d="M550,1913 L550,2095" stroke-width="3.6" fill="none" stroke-linecap="butt" stroke-linejoin="miter"/>
<path d="M550,2053 L692,1915" stroke-width="3.6" fill="none" stroke-linecap="butt" stroke-linejoin="miter"/>
</g>
</svg>
</body></html>
